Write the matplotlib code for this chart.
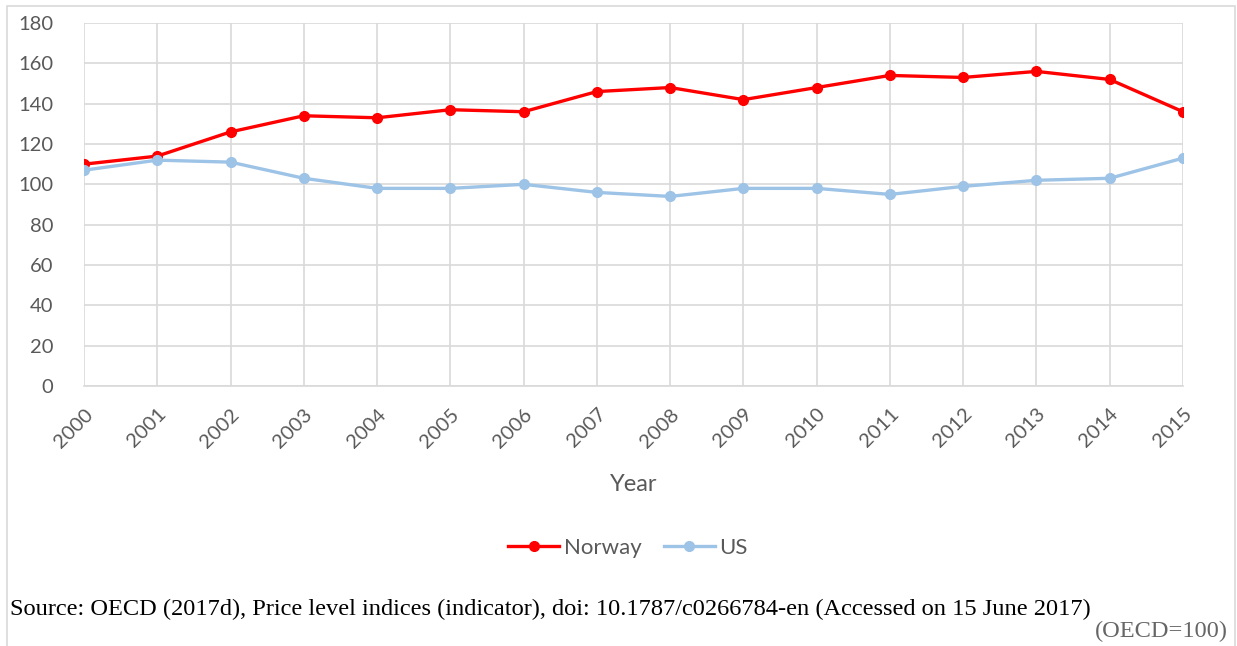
import matplotlib.pyplot as plt
from matplotlib.patches import Rectangle

years = list(range(2000, 2016))
norway = [110, 114, 126, 134, 133, 137, 136, 146, 148, 142, 148, 154, 153, 156, 152, 136]
us = [107, 112, 111, 103, 98, 98, 100, 96, 94, 98, 98, 95, 99, 102, 103, 113]
y_ticks = list(range(0, 181, 20))

SOURCE = "Source: OECD (2017d), Price level indices (indicator), doi: 10.1787/c0266784-en (Accessed on 15 June 2017)"
GREY = "#595959"
GRID = "#d9d9d9"

plt.rcParams["font.family"] = ["Lato", "DejaVu Sans"]

fig = plt.figure(figsize=(12.37, 6.46), dpi=100)

# light frame around the chart block
fig.patches.append(Rectangle((7 / 1237, -0.1), 1228 / 1237, 1.1 - 6 / 646,
                             transform=fig.transFigure, fill=False,
                             edgecolor=GRID, linewidth=1.2))

ax = fig.add_axes([84 / 1237, 1 - 386 / 646, 1099 / 1237, 363 / 646])
ax.plot(years, norway, color="#ff0000", linewidth=2.4, marker="o",
        markersize=7, label="Norway", zorder=3)
ax.plot(years, us, color="#9dc3e6", linewidth=2.4, marker="o",
        markersize=7, label="US", zorder=3)

ax.set_xlim(years[0], years[-1])
ax.set_ylim(0, 180)
ax.set_xticks(years)
ax.set_xticklabels([str(y) for y in years], rotation=45, ha="right",
                   va="top", rotation_mode="anchor", fontsize=15.5)
ax.set_yticks(y_ticks)
ax.tick_params(axis="both", length=0, labelsize=14.5, colors=GREY)
ax.tick_params(axis="x", pad=14)
ax.tick_params(axis="y", pad=22)
ax.grid(True, color=GRID, linewidth=1.2)
ax.set_axisbelow(True)
for side in ["top", "right", "left"]:
    ax.spines[side].set_visible(False)
ax.spines["bottom"].set_color(GRID)
ax.spines["bottom"].set_linewidth(1.2)

ax.set_xlabel("Year", fontsize=17, color=GREY, labelpad=17)

fig.legend(loc="center", bbox_to_anchor=(628 / 1237, 1 - 548 / 646), ncol=2,
           frameon=False, fontsize=16, labelcolor=GREY, handlelength=2.3,
           columnspacing=1.0, handletextpad=0.2)

fig.text(10 / 1237, 1 - 609 / 646, SOURCE, family="Liberation Serif",
         fontsize=17.6, color="black", ha="left", va="center")
fig.text(1228 / 1237, 1 - 631 / 646, "(OECD=100)", family="Liberation Serif",
         fontsize=17.6, color="#666666", ha="right", va="center")

fig.savefig("out.png", dpi=100)
